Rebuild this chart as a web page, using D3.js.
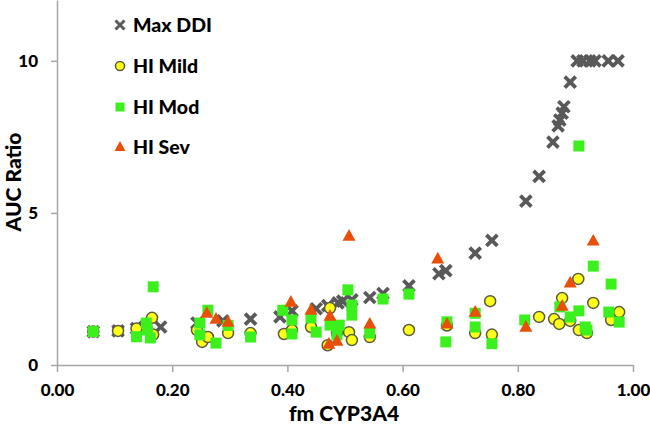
<!DOCTYPE html>
<html><head><meta charset="utf-8">
<script src="https://cdn.jsdelivr.net/npm/d3@7"></script>
<style>html,body{margin:0;padding:0;background:#fff;}svg{display:block;font-family:Lato,"Open Sans",sans-serif;}</style>
</head><body>
<svg id="c" width="650" height="431"></svg>
<script>
const xTicks = [0, 0.2, 0.4, 0.6, 0.8, 1.0];
const yTicks = [0, 5, 10];
const seriesNames = ["Max DDI", "HI Mild", "HI Mod", "HI Sev"];

const maxDDI = [[0.063,1.1],[0.106,1.12],[0.138,1.2],[0.153,1.25],[0.18,1.25],[0.243,1.38],[0.288,1.45],[0.336,1.51],[0.387,1.58],[0.408,1.78],[0.45,1.85],[0.47,1.95],[0.488,2.04],[0.496,2.1],[0.512,2.14],[0.543,2.22],[0.566,2.35],[0.611,2.6],[0.663,3.0],[0.675,3.1],[0.726,3.68],[0.755,4.1],[0.814,5.39],[0.837,6.2],[0.861,7.33],[0.870,7.86],[0.873,8.05],[0.877,8.28],[0.880,8.49],[0.891,9.3],[0.903,10],[0.913,10],[0.925,10],[0.934,10],[0.957,10],[0.974,10]];

const hiMild = [[0.063,1.1],[0.106,1.12],[0.138,1.2],[0.165,1.55],[0.167,1.0],[0.243,1.15],[0.252,0.76],[0.262,0.92],[0.297,1.05],[0.336,1.05],[0.394,1.02],[0.408,1.15],[0.441,1.25],[0.474,1.87],[0.47,0.65],[0.486,1.05],[0.507,1.08],[0.512,0.82],[0.543,0.92],[0.611,1.15],[0.677,1.3],[0.726,1.05],[0.752,2.1],[0.755,1.0],[0.837,1.58],[0.863,1.51],[0.872,1.35],[0.877,2.2],[0.891,1.45],[0.905,2.83],[0.906,1.15],[0.92,1.05],[0.931,2.04],[0.962,1.48],[0.976,1.74]];

const hiMod = [[0.063,1.1],[0.138,0.93],[0.155,1.38],[0.157,1.15],[0.162,0.89],[0.167,2.57],[0.248,1.38],[0.248,0.99],[0.262,1.8],[0.276,0.72],[0.297,1.3],[0.336,0.92],[0.392,1.8],[0.408,1.48],[0.408,1.02],[0.441,1.55],[0.45,1.08],[0.474,1.31],[0.49,1.31],[0.486,0.99],[0.505,2.47],[0.512,1.97],[0.512,1.64],[0.543,1.05],[0.566,2.17],[0.611,2.33],[0.677,1.42],[0.675,0.76],[0.726,1.7],[0.726,1.25],[0.755,0.7],[0.812,1.48],[0.873,1.91],[0.891,1.58],[0.906,1.78],[0.906,7.2],[0.917,1.25],[0.92,1.15],[0.931,3.25],[0.958,1.74],[0.962,2.66],[0.976,1.41]];

const hiSev = [[0.26,1.71],[0.276,1.51],[0.297,1.41],[0.406,2.07],[0.441,1.81],[0.474,1.61],[0.472,0.69],[0.486,0.79],[0.507,4.24],[0.543,1.35],[0.661,3.49],[0.677,1.35],[0.726,1.74],[0.814,1.25],[0.877,1.94],[0.891,2.7],[0.931,4.08]];

const svg = d3.select("#c");
const x = d3.scaleLinear().domain([0, 1]).range([57, 633]);
const y = d3.scaleLinear().domain([0, 12]).range([365, 0]);
const axisCol = "#a6a6a6";
const FW = "900";

// axes
const xAxis = svg.append("g").attr("transform", `translate(0,${y(0)})`)
  .call(d3.axisBottom(x).tickValues(xTicks).tickFormat(d3.format(".2f")).tickSize(7).tickSizeOuter(0));
const yAxis = svg.append("g").attr("transform", `translate(${x(0)},0)`)
  .call(d3.axisLeft(y).tickValues(yTicks).tickFormat(d3.format("d")).tickSize(6).tickSizeOuter(0));
[xAxis, yAxis].forEach(g => {
  g.select(".domain").attr("stroke", axisCol).attr("stroke-width", 1.5);
  g.selectAll(".tick line").attr("stroke", axisCol).attr("stroke-width", 1.5);
  g.selectAll("text").attr("fill", "#000").style("font-family", "Lato").style("font-weight", FW).style("font-size", "17px");
});
xAxis.selectAll("text").attr("dy", "0").attr("y", 31);
yAxis.selectAll("text").attr("x", -19).attr("dy", "0.35em");

// axis titles
svg.append("text").attr("x", 344).attr("y", 421).attr("text-anchor", "middle")
  .style("font-weight", FW).style("font-size", "21px").text("fm CYP3A4");
svg.append("text").attr("transform", "translate(21,182) rotate(-90)").attr("text-anchor", "middle")
  .style("font-weight", FW).style("font-size", "21px").text("AUC Ratio");

// marker drawers
const colX = "#595959", colMild = "#ffff1a", colMildStroke = "#5a5a3c", colMod = "#3cf01e", colSev = "#e8500a";
function drawX(g, cx, cy, s, w) {
  g.append("path").attr("d", `M${cx-s},${cy-s}L${cx+s},${cy+s}M${cx-s},${cy+s}L${cx+s},${cy-s}`)
    .attr("stroke", colX).attr("stroke-width", w).attr("fill", "none");
}
function drawCircle(g, cx, cy, r) {
  g.append("circle").attr("cx", cx).attr("cy", cy).attr("r", r).attr("fill", colMild).attr("stroke", colMildStroke).attr("stroke-width", 1.5);
}
function drawSquare(g, cx, cy, s) {
  g.append("rect").attr("x", cx - s/2).attr("y", cy - s/2).attr("width", s).attr("height", s).attr("fill", colMod);
}
function drawTri(g, cx, cy, s) {
  const h = s * 0.9;
  g.append("path").attr("d", `M${cx},${cy - h*0.6}L${cx + s/2},${cy + h*0.4}L${cx - s/2},${cy + h*0.4}Z`).attr("fill", colSev);
}

const pts = svg.append("g");
maxDDI.forEach(d => drawX(pts, x(d[0]), y(d[1]), 5.5, 3.8));
hiMild.forEach(d => drawCircle(pts, x(d[0]), y(d[1]), 5.5));
hiMod.forEach(d => drawSquare(pts, x(d[0]), y(d[1]), 11));
hiSev.forEach(d => drawTri(pts, x(d[0]), y(d[1]), 13));

// legend
const lg = svg.append("g");
const ly = [25, 66, 107, 147];
drawX(lg, 120, ly[0], 4.5, 3);
drawCircle(lg, 120, ly[1], 4.5);
drawSquare(lg, 120, ly[2], 9);
drawTri(lg, 120, ly[3], 11);
seriesNames.forEach((n, i) => {
  lg.append("text").attr("x", 133).attr("y", ly[i]).attr("dy", "0.35em")
    .style("font-weight", FW).style("font-size", "19.5px").text(n);
});
</script>
</body></html>
